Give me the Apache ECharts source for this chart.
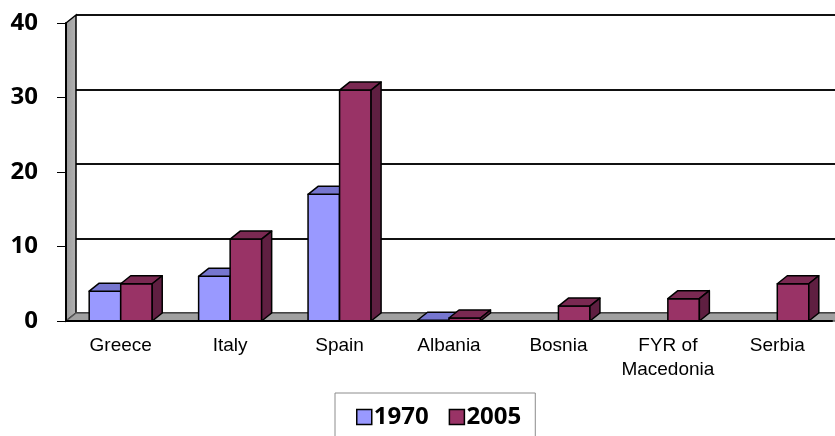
<!DOCTYPE html>
<html>
<head>
<meta charset="utf-8">
<script src="https://cdn.jsdelivr.net/npm/echarts@6/dist/echarts.min.js"></script>
<style>
  html, body { margin: 0; padding: 0; background: #fff; }
  #chart { width: 835px; height: 436px; }
</style>
</head>
<body>
<div id="chart"></div>
<script>
// data
const countries = ['Greece', 'Italy', 'Spain', 'Albania', 'Bosnia', 'FYR of\nMacedonia', 'Serbia'];
const values1970 = [4, 6, 17, 0.1, 0, 0, 0];
const values2005 = [5, 11, 31, 0.4, 2, 3, 5];
const seriesNames = ['1970', '2005'];
const yTicks = [0, 10, 20, 30, 40];

// 3d look
const DX = 10;   // depth to the right
const DY = 8;    // depth upward
const BAR_RATIO = 0.288;

const chart = echarts.init(document.getElementById('chart'));

function bar3d(slot, front, top, side) {
  return function (params, api) {
    const i = api.value(0);
    const v = api.value(1);
    if (slot === 0 && v === 0) return null;
    const base = api.coord([i, 0]);
    const head = api.coord([i, v]);
    const w = api.size([1, 0])[0] * BAR_RATIO;
    const x0 = base[0] - w + slot * w;
    const x1 = x0 + w;
    const yb = base[1];
    const yt = head[1];
    const st = { stroke: '#000', lineWidth: 1.5, lineJoin: 'round' };
    return {
      type: 'group',
      children: [
        { type: 'polygon', shape: { points: [[x0, yt], [x1, yt], [x1, yb], [x0, yb]] },
          style: Object.assign({ fill: front }, st) },
        { type: 'polygon', shape: { points: [[x0, yt], [x0 + DX, yt - DY], [x1 + DX, yt - DY], [x1, yt]] },
          style: Object.assign({ fill: top }, st) },
        { type: 'polygon', shape: { points: [[x1, yt], [x1 + DX, yt - DY], [x1 + DX, yb - DY], [x1, yb]] },
          style: Object.assign({ fill: side }, st) }
      ]
    };
  };
}

// left wall + floor, drawn from the grid rect
function wallAndFloor(params, api) {
  const c = params.coordSys;
  const x = c.x, y = c.y, w = c.width, h = c.height;
  return {
    type: 'group',
    children: [
      { type: 'polygon',
        shape: { points: [[x, y], [x + DX, y - DY], [x + DX, y + h - DY], [x, y + h]] },
        style: { fill: new echarts.graphic.LinearGradient(0, 0, 1, 0, [
          { offset: 0, color: '#9a9a9a' }, { offset: 1, color: '#b4b4b4' }]),
          stroke: '#000', lineWidth: 1.5 } },
      { type: 'polygon',
        shape: { points: [[x, y + h], [x + DX, y + h - DY], [x + w + DX + 10, y + h - DY], [x + w + 10, y + h]] },
        style: { fill: '#a0a0a0', stroke: '#555', lineWidth: 1.5 } }
    ]
  };
}

const catFont = { fontFamily: '"Liberation Sans Narrow", "Arial Narrow", "Liberation Sans", sans-serif' };
const boldFont = '"Open Sans", "Liberation Sans", sans-serif';

const option = {
  animation: false,
  backgroundColor: '#fff',
  grid: [
    { left: 66, top: 23, right: 3, bottom: 115 },
    { left: 76, top: 15, right: -10, bottom: 123 }
  ],
  xAxis: [
    {
      type: 'category', gridIndex: 0, data: countries, z: 3,
      axisLine: { lineStyle: { color: '#000', width: 2 } },
      axisTick: { length: 8, lineStyle: { color: '#000', width: 1 } },
      axisLabel: Object.assign({ color: '#000', fontSize: 19, margin: 13, lineHeight: 24, interval: 0 }, catFont)
    },
    { type: 'category', gridIndex: 1, data: countries, show: false }
  ],
  yAxis: [
    {
      type: 'value', gridIndex: 0, min: yTicks[0], max: yTicks[yTicks.length - 1], interval: 10, z: 3,
      axisLine: { show: true, lineStyle: { color: '#000', width: 2 } },
      axisTick: { show: true, length: 9, lineStyle: { color: '#000', width: 1 } },
      splitLine: { show: false },
      axisLabel: { color: '#000', fontSize: 24, fontWeight: 'bold', margin: 28, fontFamily: boldFont }
    },
    {
      type: 'value', gridIndex: 1, min: yTicks[0], max: yTicks[yTicks.length - 1], interval: 10,
      axisLine: { show: false }, axisTick: { show: false }, axisLabel: { show: false },
      splitLine: { show: true, lineStyle: { color: '#111', width: 2 } }
    }
  ],
  legend: {
    data: seriesNames,
    left: 335, top: 393,
    padding: [12, 14, 24, 21],
    borderColor: '#8c8c8c', borderWidth: 1,
    itemWidth: 15, itemHeight: 15, itemGap: 20,
    icon: 'rect',
    itemStyle: { borderColor: '#000', borderWidth: 1.5 },
    textStyle: { color: '#000', fontSize: 24, fontWeight: 'bold', padding: [0, 0, 0, -3], fontFamily: boldFont }
  },
  series: [
    {
      type: 'custom', name: 'floor', xAxisIndex: 0, yAxisIndex: 0, z: 1,
      data: [[0, 0]], renderItem: wallAndFloor, silent: true
    },
    {
      type: 'custom', name: seriesNames[0], xAxisIndex: 0, yAxisIndex: 0, z: 2,
      itemStyle: { color: '#9999ff' },
      encode: { x: 0, y: 1 },
      data: values1970.map((v, i) => [i, v]),
      renderItem: bar3d(0, '#9999ff', '#7676cf', '#6262b8')
    },
    {
      type: 'custom', name: seriesNames[1], xAxisIndex: 0, yAxisIndex: 0, z: 2,
      itemStyle: { color: '#993366' },
      encode: { x: 0, y: 1 },
      data: values2005.map((v, i) => [i, v]),
      renderItem: bar3d(1, '#993366', '#7a2952', '#5f1f41')
    }
  ]
};

chart.setOption(option);
</script>
</body>
</html>
